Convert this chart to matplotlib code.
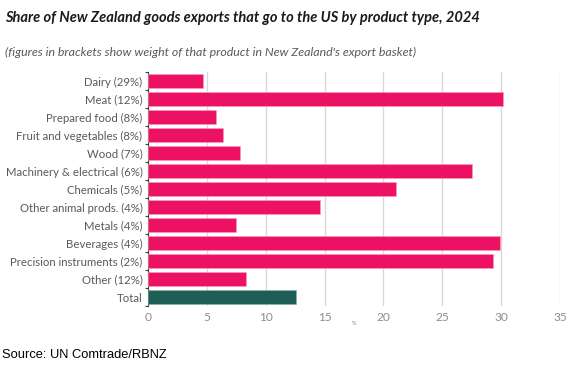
import numpy as np
import matplotlib
matplotlib.use('Agg')
import matplotlib.pyplot as plt

categories = [
    "Dairy (29%)", "Meat (12%)", "Prepared food (8%)", "Fruit and vegetables (8%)",
    "Wood (7%)", "Machinery & electrical (6%)", "Chemicals (5%)",
    "Other animal prods. (4%)", "Metals (4%)", "Beverages (4%)",
    "Precision instruments (2%)", "Other (12%)", "Total",
]
values = [4.7, 30.2, 5.8, 6.4, 7.8, 27.5, 21.1, 14.6, 7.5, 29.9, 29.3, 8.3, 12.6]
xticks = [0, 5, 10, 15, 20, 25, 30, 35]

PINK = "#EC1162"
TEAL = "#1D5F56"
GREY = "#7f7f7f"

plt.rcParams['font.family'] = ['Lato', 'DejaVu Sans']

fig = plt.figure(figsize=(5.81, 3.72), dpi=100)
ax = fig.add_axes([148 / 581, 1 - 306 / 372, (560 - 148) / 581, (306 - 72) / 372])

y = np.arange(len(categories))
colors = [PINK] * (len(categories) - 1) + [TEAL]
ax.barh(y, values, height=0.78, color=colors, edgecolor="#f6a0bf", linewidth=0.4, zorder=3)
ax.patches[-1].set_edgecolor("#8fb3ad")

ax.set_ylim(len(categories) - 0.5, -0.5)
ax.set_xlim(0, 35)
ax.set_xticks(xticks)
ax.set_yticks(y)
ax.set_yticklabels(categories, fontsize=8.2, color="#595959")
ax.set_yticks(np.arange(len(categories) + 1) - 0.5, minor=True)
ax.tick_params(axis="y", which="major", length=0, pad=4)
ax.tick_params(axis="y", which="minor", length=2.5, width=0.8, color="#404040")
ax.tick_params(axis="x", length=0, labelsize=8.6, labelcolor="#8c8c8c", pad=4)
ax.grid(axis="x", color="#d9d9d9", linewidth=1.0, zorder=0)

for s in ["top", "right", "bottom"]:
    ax.spines[s].set_visible(False)
ax.spines["left"].set_color("#404040")
ax.spines["left"].set_linewidth(0.8)

ax.text(17.5, 13.35, "%", fontsize=4, color=GREY, ha="center", va="top")

fig.text(5 / 581, 1 - 18 / 372, "Share of New Zealand goods exports that go to the US by product type, 2024",
         fontsize=10.5, fontweight="bold", fontstyle="italic", color="#1a1a1a", va="center", ha="left")
fig.text(5 / 581, 1 - 52 / 372, "(figures in brackets show weight of that product in New Zealand's export basket)",
         fontsize=8.95, fontstyle="italic", color="#595959", va="center", ha="left")
fig.text(2 / 581, 1 - 355 / 372, "Source: UN Comtrade/RBNZ", fontsize=9.3, color="black",
         va="center", ha="left", family=["Liberation Sans", "DejaVu Sans"])

fig.savefig("out.png", dpi=100, facecolor="white")
